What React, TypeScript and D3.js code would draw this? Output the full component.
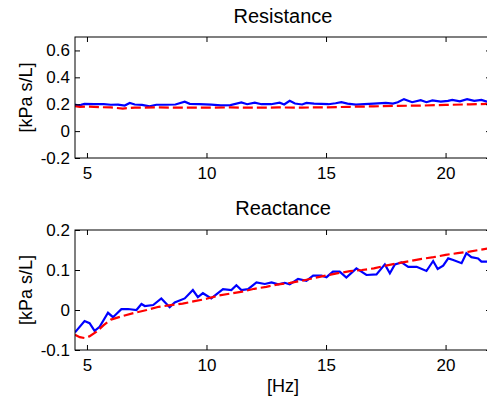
import React, { useEffect, useRef } from "react";
import * as d3 from "d3";

// frequency axis
const hzDomain = [4.5, 21.9];
const hzTicks = [5, 10, 15, 20];
const resistanceTicks = [-0.2, 0, 0.2, 0.4, 0.6];
const reactanceTicks = [-0.1, 0, 0.1, 0.2];

// [Hz, kPa s/L]
const resistanceMeasured: [number, number][] = [
  [4.5, 0.198], [4.62, 0.19], [4.75, 0.195], [4.9, 0.202], [5.3, 0.201], [5.7, 0.2],
  [6.0, 0.196], [6.3, 0.197], [6.58, 0.19], [6.79, 0.209], [7.0, 0.198], [7.3, 0.195],
  [7.62, 0.184], [7.9, 0.196], [8.3, 0.196], [8.7, 0.198], [9.09, 0.219], [9.3, 0.203],
  [9.7, 0.2], [10.2, 0.197], [10.6, 0.192], [11.0, 0.193], [11.46, 0.213], [11.7, 0.2],
  [12.02, 0.212], [12.3, 0.2], [12.7, 0.2], [13.06, 0.212], [13.25, 0.198], [13.48, 0.226],
  [13.7, 0.205], [14.0, 0.198], [14.18, 0.21], [14.5, 0.205], [14.8, 0.203], [15.1, 0.2],
  [15.4, 0.207], [15.64, 0.215], [15.9, 0.205], [16.25, 0.197], [16.6, 0.2], [17.0, 0.204],
  [17.5, 0.21], [17.8, 0.205], [18.0, 0.215], [18.26, 0.238], [18.6, 0.215], [18.96, 0.23],
  [19.2, 0.215], [19.45, 0.228], [19.8, 0.22], [20.1, 0.225], [20.28, 0.232], [20.6, 0.222],
  [20.9, 0.238], [21.2, 0.225], [21.5, 0.232], [21.72, 0.22], [21.9, 0.222],
];

const resistanceModel: [number, number][] = [
  [4.5, 0.185], [4.7, 0.18], [5.0, 0.183], [5.5, 0.178], [6.0, 0.176], [6.5, 0.168],
  [7.0, 0.175], [8.0, 0.176], [9.0, 0.174], [10, 0.174], [11, 0.176], [12, 0.174],
  [13, 0.176], [14, 0.175], [15, 0.177], [16, 0.181], [17, 0.184], [18, 0.188],
  [19, 0.19], [20, 0.195], [21, 0.199], [21.9, 0.203],
];

const reactanceMeasured: [number, number][] = [
  [4.5, -0.056], [4.9, -0.0275], [5.11, -0.033], [5.32, -0.052], [5.53, -0.042], [5.88, -0.007],
  [6.09, -0.018], [6.23, -0.01], [6.44, 0.002], [6.72, 0.0025], [7.07, 0.0], [7.28, 0.015],
  [7.42, 0.01], [7.77, 0.0125], [8.11, 0.029], [8.46, 0.007], [8.67, 0.019], [9.09, 0.029],
  [9.43, 0.05], [9.64, 0.032], [9.85, 0.042], [10.2, 0.029], [10.69, 0.052], [11.04, 0.05],
  [11.25, 0.062], [11.46, 0.05], [11.74, 0.052], [12.09, 0.069], [12.44, 0.065], [12.72, 0.069],
  [13.0, 0.064], [13.27, 0.068], [13.48, 0.064], [13.83, 0.0775], [14.18, 0.073], [14.46, 0.086],
  [14.81, 0.086], [15.02, 0.082], [15.29, 0.096], [15.57, 0.096], [15.85, 0.081], [16.27, 0.104],
  [16.69, 0.0875], [17.11, 0.089], [17.46, 0.114], [17.67, 0.092], [17.88, 0.114], [18.16, 0.119],
  [18.44, 0.108], [18.79, 0.108], [19.2, 0.0975], [19.48, 0.1225], [19.67, 0.1025], [19.9, 0.111],
  [20.11, 0.129], [20.32, 0.125], [20.67, 0.117], [20.87, 0.142], [21.08, 0.132], [21.36, 0.129],
  [21.5, 0.121], [21.9, 0.121],
];

const reactanceModel: [number, number][] = [
  [4.5, -0.062], [4.7, -0.068], [4.9, -0.07], [5.1, -0.066], [5.4, -0.054], [5.7, -0.038],
  [6.0, -0.024], [6.5, -0.015], [7.0, -0.007], [7.5, 0.0], [8.0, 0.008], [8.5, 0.012],
  [9.0, 0.016], [9.5, 0.022], [10.0, 0.028], [10.5, 0.036], [11, 0.041], [11.5, 0.046],
  [12, 0.053], [12.5, 0.058], [13, 0.064], [13.5, 0.068], [14, 0.073], [14.5, 0.08],
  [15, 0.086], [15.5, 0.092], [16, 0.097], [16.5, 0.1], [17, 0.104], [17.5, 0.111],
  [18, 0.117], [18.5, 0.122], [19, 0.128], [19.5, 0.132], [20, 0.138], [20.5, 0.142],
  [21, 0.146], [21.5, 0.151], [21.9, 0.155],
];

const FONT = "'Liberation Sans', Arial, Helvetica, sans-serif";

const App = () => {
  const ref = useRef<SVGSVGElement>(null);

  useEffect(() => {
    const svg = d3.select(ref.current);
    svg.selectAll("*").remove();

    const left = 75;
    const right = 491;

    const panel = (
      id: string,
      title: string,
      top: number,
      bottom: number,
      yDomain: number[],
      yTicks: number[],
      measured: [number, number][],
      model: [number, number][],
      titleY: number
    ) => {
      const x = d3.scaleLinear().domain(hzDomain).range([left, right]);
      const y = d3.scaleLinear().domain(yDomain).range([bottom, top]);
      const g = svg.append("g");

      g.append("clipPath")
        .attr("id", id)
        .append("rect")
        .attr("x", left)
        .attr("y", top)
        .attr("width", right - left)
        .attr("height", bottom - top);

      const line = d3
        .line<[number, number]>()
        .x((d) => x(d[0]))
        .y((d) => y(d[1]));

      g.append("path")
        .datum(measured)
        .attr("clip-path", `url(#${id})`)
        .attr("fill", "none")
        .attr("stroke", "#0000ff")
        .attr("stroke-width", 2.2)
        .attr("d", line);

      g.append("path")
        .datum(model)
        .attr("clip-path", `url(#${id})`)
        .attr("fill", "none")
        .attr("stroke", "#ff0000")
        .attr("stroke-width", 2.2)
        .attr("stroke-dasharray", "10,4")
        .attr("d", line);

      g.append("rect")
        .attr("x", left)
        .attr("y", top)
        .attr("width", right - left)
        .attr("height", bottom - top)
        .attr("fill", "none")
        .attr("stroke", "#000");

      const fmt = (d: any) => String(d);

      const xb = g
        .append("g")
        .attr("transform", `translate(0,${bottom})`)
        .call(d3.axisBottom(x).tickValues(hzTicks).tickSizeInner(-5).tickSizeOuter(0).tickPadding(9).tickFormat(fmt));
      const xt = g
        .append("g")
        .attr("transform", `translate(0,${top})`)
        .call(d3.axisTop(x).tickValues(hzTicks).tickSizeInner(-5).tickSizeOuter(0).tickFormat(() => ""));
      const yl = g
        .append("g")
        .attr("transform", `translate(${left},0)`)
        .call(d3.axisLeft(y).tickValues(yTicks).tickSizeInner(-5).tickSizeOuter(0).tickPadding(5).tickFormat(fmt));
      const yr = g
        .append("g")
        .attr("transform", `translate(${right},0)`)
        .call(d3.axisRight(y).tickValues(yTicks).tickSizeInner(-5).tickSizeOuter(0).tickFormat(() => ""));

      [xb, xt, yl, yr].forEach((a) => {
        a.select(".domain").remove();
        a.selectAll("line").attr("stroke", "#000");
        a.attr("font-family", FONT).attr("font-size", 17);
        a.selectAll("text").attr("fill", "#000");
      });

      g.append("text")
        .attr("x", (left + right) / 2)
        .attr("y", titleY)
        .attr("text-anchor", "middle")
        .attr("font-family", FONT)
        .attr("font-size", 20)
        .text(title);

      g.append("text")
        .attr("transform", `translate(32,${(top + bottom) / 2}) rotate(-90)`)
        .attr("text-anchor", "middle")
        .attr("font-family", FONT)
        .attr("font-size", 18)
        .text("[kPa s/L]");
    };

    panel("clip-res", "Resistance", 37, 158, [-0.2, 0.7], resistanceTicks, resistanceMeasured, resistanceModel, 23);
    panel("clip-rea", "Reactance", 230, 350, [-0.1, 0.2], reactanceTicks, reactanceMeasured, reactanceModel, 215);

    svg
      .append("text")
      .attr("x", (left + right) / 2)
      .attr("y", 392)
      .attr("text-anchor", "middle")
      .attr("font-family", FONT)
      .attr("font-size", 18)
      .text("[Hz]");
  });

  return (
    <svg
      ref={ref}
      width={487}
      height={399}
      style={{ position: "absolute", left: 0, top: 0, background: "#fff" }}
    />
  );
};

export default App;
